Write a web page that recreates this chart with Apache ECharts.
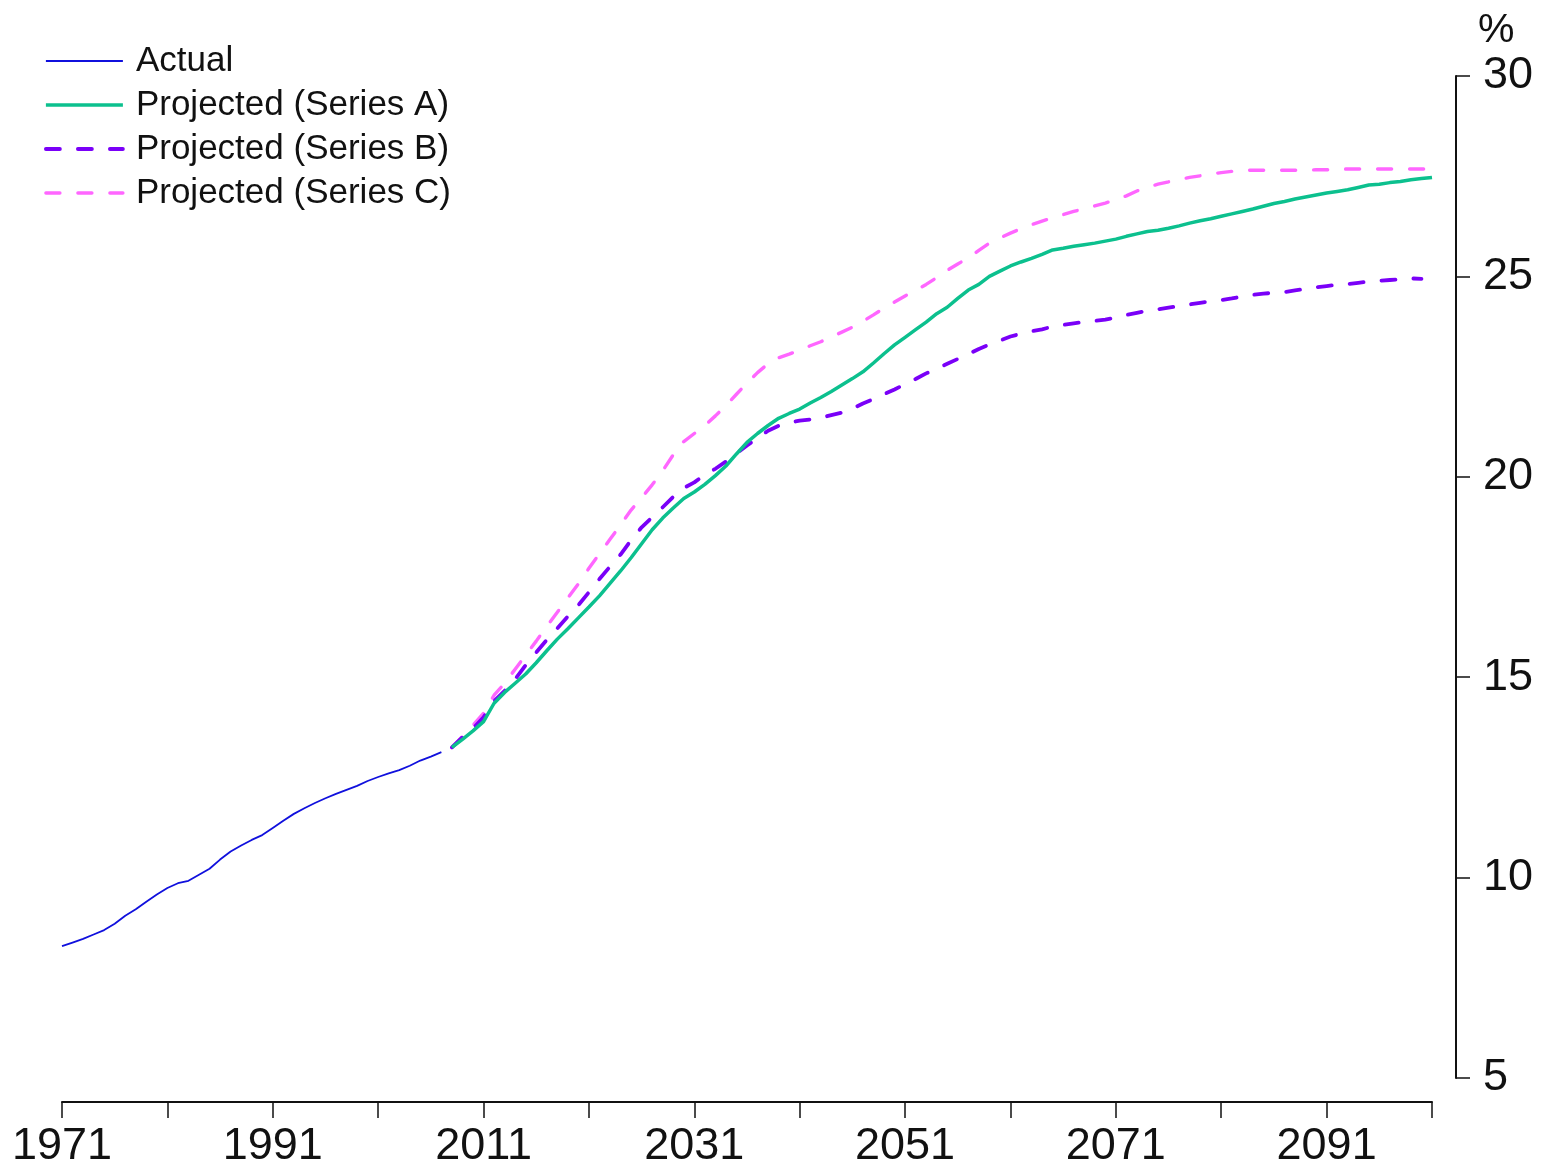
<!DOCTYPE html>
<html>
<head>
<meta charset="utf-8">
<script src="https://cdn.jsdelivr.net/npm/echarts@6/dist/echarts.min.js"></script>
<style>
  html, body { margin: 0; padding: 0; background: #fff; }
  #main { width: 1545px; height: 1170px; }
</style>
</head>
<body>
<div id="main"></div>
<script>
var chartDom = document.getElementById('main');
var myChart = echarts.init(chartDom);
var option;

var FONT = "'Liberation Sans', Arial, sans-serif";

// years on the x axis, 1971 to 2101
var years = [];
for (var y = 1971; y <= 2101; y++) years.push(String(y));

// actual, 1971-2007
var actualStart = 1971;
var actual = [
  8.29, 8.38, 8.47, 8.58, 8.69, 8.85, 9.05, 9.21, 9.40, 9.58,
  9.74, 9.86, 9.92, 10.07, 10.22, 10.45, 10.65, 10.80, 10.94, 11.06,
  11.24, 11.42, 11.59, 11.73, 11.86, 11.98, 12.09, 12.19, 12.29, 12.41,
  12.51, 12.60, 12.68, 12.79, 12.92, 13.02, 13.13
];

// projections start in 2008
var projStart = 2008;
var seriesA = [
  13.25, 13.45, 13.66, 13.89, 14.35, 14.62, 14.85, 15.08, 15.36, 15.66,
  15.95, 16.21, 16.48, 16.75, 17.03, 17.34, 17.65, 17.98, 18.33, 18.68,
  18.97, 19.22, 19.46, 19.62, 19.81, 20.03, 20.27, 20.57, 20.86, 21.08,
  21.28, 21.46, 21.58, 21.69, 21.84, 21.98, 22.13, 22.29, 22.45, 22.62,
  22.84, 23.07, 23.29, 23.48, 23.67, 23.86, 24.07, 24.23, 24.45, 24.66,
  24.80, 25.00, 25.13, 25.26, 25.36, 25.45, 25.55, 25.66, 25.70, 25.75,
  25.79, 25.83, 25.88, 25.93, 26.00, 26.06, 26.12, 26.15, 26.20, 26.26,
  26.33, 26.39, 26.44, 26.50, 26.56, 26.62, 26.68, 26.75, 26.82, 26.87,
  26.93, 26.98, 27.03, 27.08, 27.12, 27.16, 27.22, 27.28, 27.30, 27.34,
  27.37, 27.41, 27.44, 27.47
];
var seriesB = [
  13.25, 13.50, 13.72, 14.00, 14.40, 14.66, 14.95, 15.30, 15.62, 15.93,
  16.22, 16.52, 16.80, 17.12, 17.45, 17.76, 18.06, 18.42, 18.74, 18.99,
  19.24, 19.50, 19.72, 19.86, 20.05, 20.20, 20.38, 20.58, 20.78, 20.97,
  21.15, 21.27, 21.35, 21.40, 21.43, 21.47, 21.54, 21.60, 21.70, 21.83,
  21.94, 22.06, 22.18, 22.31, 22.44, 22.58, 22.70, 22.82, 22.94, 23.06,
  23.19, 23.30, 23.40, 23.50, 23.57, 23.63, 23.68, 23.75, 23.79, 23.83,
  23.86, 23.89, 23.92, 23.97, 24.04, 24.09, 24.14, 24.18, 24.22, 24.26,
  24.30, 24.34, 24.38, 24.41, 24.45, 24.50, 24.54, 24.57, 24.59, 24.61,
  24.65, 24.69, 24.73, 24.76, 24.79, 24.81, 24.84, 24.87, 24.89, 24.91,
  24.93, 24.95, 24.94
];
var seriesC = [
  13.25, 13.52, 13.80, 14.10, 14.55, 14.85, 15.20, 15.55, 15.90, 16.27,
  16.62, 16.98, 17.33, 17.72, 18.08, 18.44, 18.80, 19.17, 19.48, 19.80,
  20.15, 20.55, 20.88, 21.08, 21.28, 21.52, 21.78, 22.06, 22.34, 22.60,
  22.82, 22.97, 23.06, 23.16, 23.27, 23.37, 23.49, 23.61, 23.73, 23.88,
  24.04, 24.21, 24.36, 24.51, 24.65, 24.80, 24.97, 25.15, 25.31, 25.46,
  25.65, 25.83, 25.96, 26.08, 26.19, 26.29, 26.38, 26.46, 26.54, 26.62,
  26.69, 26.76, 26.83, 26.91, 27.01, 27.13, 27.23, 27.30, 27.36, 27.42,
  27.47, 27.51, 27.55, 27.59, 27.62, 27.64, 27.65, 27.65, 27.65, 27.65,
  27.65, 27.65, 27.66, 27.66, 27.67, 27.68, 27.68, 27.68, 27.68, 27.68,
  27.68, 27.68, 27.68, 27.68
];

// put a run of values onto the full year list
function onYears(start, values) {
  return years.map(function (yr) {
    var i = Number(yr) - start;
    return (i >= 0 && i < values.length) ? values[i] : null;
  });
}

option = {
  animation: false,
  backgroundColor: '#fff',
  title: {
    text: '%',
    left: 1473,
    top: 5,
    textStyle: { fontFamily: FONT, fontSize: 41, fontWeight: 'normal', color: '#111' }
  },
  legend: {
    orient: 'vertical',
    left: 44,
    top: 39,
    padding: 0,
    itemWidth: 77,
    itemHeight: 1,
    itemGap: 0,
    itemStyle: { opacity: 0 },
    lineStyle: { width: 'inherit' },
    data: ['Actual', 'Projected (Series A)', 'Projected (Series B)', 'Projected (Series C)'],
    textStyle: {
      fontFamily: FONT, fontSize: 35, color: '#111', lineHeight: 44,
      padding: [0, 0, 0, 8]
    }
  },
  grid: { left: 62, right: 113, top: 76, bottom: 92, containLabel: false },
  xAxis: {
    type: 'category',
    data: years,
    boundaryGap: false,
    offset: 24,
    axisLine: { lineStyle: { color: '#111', width: 2 } },
    axisTick: { interval: 9, length: 16, lineStyle: { color: '#111', width: 1.5 } },
    axisLabel: {
      interval: 19, margin: 22,
      fontFamily: FONT, fontSize: 45, color: '#111'
    },
    splitLine: { show: false }
  },
  yAxis: {
    type: 'value',
    position: 'right',
    offset: 24,
    min: 5,
    max: 30,
    interval: 5,
    axisLine: { show: true, lineStyle: { color: '#111', width: 2 } },
    axisTick: { show: true, length: 14, lineStyle: { color: '#111', width: 1.5 } },
    axisLabel: { margin: 27, fontFamily: FONT, fontSize: 45, color: '#111' },
    splitLine: { show: false }
  },
  series: [
    {
      name: 'Actual', type: 'line', symbol: 'none', z: 5,
      data: onYears(actualStart, actual),
      lineStyle: { color: '#1010dd', width: 1.8 },
      itemStyle: { color: '#1010dd' }
    },
    {
      name: 'Projected (Series A)', type: 'line', symbol: 'none', z: 4,
      data: onYears(projStart, seriesA),
      lineStyle: { color: '#0cc08e', width: 3.5 },
      itemStyle: { color: '#0cc08e' }
    },
    {
      name: 'Projected (Series B)', type: 'line', symbol: 'none', z: 3,
      data: onYears(projStart, seriesB),
      lineStyle: { color: '#7a00f8', width: 3.8, type: [14, 18], cap: 'round' },
      itemStyle: { color: '#7a00f8' }
    },
    {
      name: 'Projected (Series C)', type: 'line', symbol: 'none', z: 2,
      data: onYears(projStart, seriesC),
      lineStyle: { color: '#ff66ff', width: 3.4, type: [14, 18], cap: 'round' },
      itemStyle: { color: '#ff66ff' }
    }
  ]
};

option && myChart.setOption(option);
</script>
</body>
</html>
